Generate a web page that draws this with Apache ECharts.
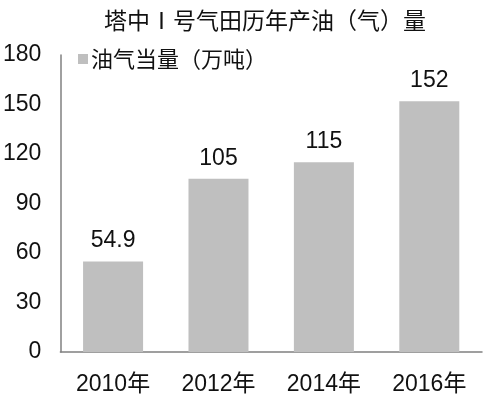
<!DOCTYPE html>
<html>
<head>
<meta charset="utf-8">
<script src="https://cdn.jsdelivr.net/npm/echarts@6/dist/echarts.min.js"></script>
<style>
  html, body { margin: 0; padding: 0; background: #fff; }
  #chart { width: 493px; height: 399px; }
</style>
</head>
<body>
<div id="chart"></div>
<script>
// 数据
var years = ['2010年', '2012年', '2014年', '2016年'];
var output = [54.9, 105, 115, 152];
var yTicks = { min: 0, max: 180, interval: 30 };

var font = "'Liberation Sans', 'Noto Sans CJK SC', sans-serif";

var chart = echarts.init(document.getElementById('chart'));
chart.setOption({
    animation: false,
    backgroundColor: '#fff',
    title: {
        text: '塔中Ⅰ号气田历年产油（气）量',
        left: 99,
        top: 4,
        textStyle: { fontFamily: "'Noto Sans CJK SC', sans-serif", fontSize: 23, fontWeight: 'normal', color: '#111' }
    },
    legend: {
        data: ['油气当量（万吨）'],
        left: 73,
        top: 43,
        icon: 'rect',
        itemWidth: 10,
        itemHeight: 10,
        itemGap: 4,
        textStyle: { fontFamily: "'Noto Sans CJK SC', sans-serif", fontSize: 22, color: '#111', padding: [0, 0, 0, -2] }
    },
    grid: { left: 58, right: 11, top: 55, bottom: 47 },
    xAxis: {
        type: 'category',
        data: years,
        axisLine: { lineStyle: { color: '#808080', width: 1.5 } },
        axisTick: { show: false },
        axisLabel: { interval: 0, fontFamily: font, fontSize: 23, color: '#111', margin: 21 }
    },
    yAxis: {
        type: 'value',
        min: yTicks.min,
        max: yTicks.max,
        interval: yTicks.interval,
        axisLine: { show: true, lineStyle: { color: '#808080', width: 1.5 } },
        axisTick: { show: false },
        splitLine: { show: false },
        axisLabel: { fontFamily: font, fontSize: 23, color: '#111', margin: 19 }
    },
    series: [{
        name: '油气当量（万吨）',
        type: 'bar',
        data: output,
        barWidth: 60,
        itemStyle: { color: '#bfbfbf' },
        label: {
            show: true,
            position: 'top',
            distance: 9,
            fontFamily: font,
            fontSize: 23,
            color: '#111'
        }
    }]
});
</script>
</body>
</html>
